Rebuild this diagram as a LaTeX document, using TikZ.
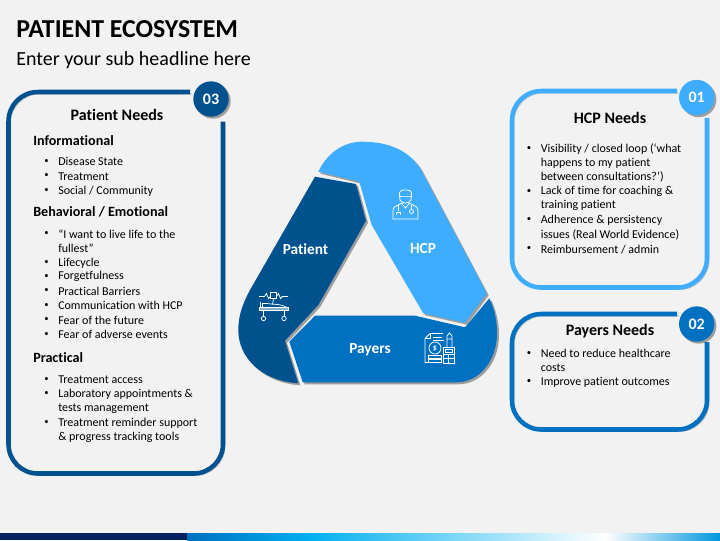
\documentclass[tikz,border=0pt]{standalone}
\usepackage{fontspec}
\setmainfont[Ligatures={TeX,NoCommon}]{Carlito}
\usetikzlibrary{shadows}

\definecolor{bgcol}{HTML}{F2F2F2}
\definecolor{darkblue}{HTML}{00528F}
\definecolor{midblue}{HTML}{0070C0}
\definecolor{lightblue}{HTML}{3FADFF}
\definecolor{navybar}{HTML}{002060}
\definecolor{skybar}{HTML}{00B0F0}

\tikzset{
	x=0.75pt,y=-0.75pt,
	softshadow/.style={drop shadow={shadow xshift=1.5pt,shadow yshift=-1.5pt,opacity=.35,fill=black}},
	frameline/.style={line width=3.4pt,rounded corners=22pt,
		preaction={draw=black,opacity=.28,transform canvas={shift={(1.5pt,-1.5pt)}}}},
	badge/.style={circle,minimum size=26.5pt,inner sep=0pt,text=white,font=\bfseries\fontsize{12}{14}\selectfont,softshadow},
	segment/.style={softshadow},
	seglabel/.style={text=white,font=\bfseries\fontsize{11.5}{14}\selectfont},
	needhead/.style={font=\bfseries\fontsize{12}{14}\selectfont},
	subhead/.style={anchor=west,inner sep=0pt,font=\bfseries\fontsize{10.6}{13}\selectfont},
	itemlist/.style={anchor=west,align=left,inner sep=0pt,yshift=-.6pt,font=\fontsize{9}{10.8}\selectfont},
	dotmark/.style={anchor=center,inner sep=0pt,yshift=-.3pt,font=\fontsize{6.5}{8}\selectfont},
	iconline/.style={draw=white,line width=.55pt},
}

\begin{document}
\begin{tikzpicture}
\useasboundingbox (0,0) rectangle (720,540);
\fill[bgcol] (0,0) rectangle (720,540);

% title
\node[anchor=west,inner sep=0pt,font=\bfseries\fontsize{19.4}{23}\selectfont] (title) at (16,29) {PATIENT ECOSYSTEM};
\node[anchor=west,inner sep=0pt,font=\fontsize{15}{18}\selectfont] (subtitle) at (16,60) {Enter your sub headline here};

% bottom bar
\fill[navybar] (0,533) rectangle (187,540);
\fill[left color=midblue,right color=skybar] (187,533) rectangle (310,540);
\fill[left color=skybar,right color=white] (310,533) rectangle (605,540);
\fill[left color=white,right color=skybar!60!midblue] (605,533) rectangle (720,540);

% triangle
\fill[lightblue,segment] (318.3,171.7) .. controls (326,155) and (342,141.7) .. (361.7,141.7)
	.. controls (388,141.7) and (408,150) .. (420,168) -- (486.7,293.3) -- (465,322.7) -- (423.3,313.3)
	-- (371.7,225) -- (359.3,181.7) -- cycle;
\fill[darkblue,segment] (315,176.7) -- (356,184) -- (366,220.7) -- (318.3,305) -- (285,340.7) -- (298.3,383.3)
	.. controls (262,381) and (238.3,358) .. (238.3,330) .. controls (238.3,315) and (243,303) .. (250,290) -- cycle;
\fill[midblue,segment] (289.3,341.7) -- (315,315.7) -- (415,315.7) -- (465,327.3) -- (489.3,298.3)
	.. controls (494,308) and (497,320) .. (497,333) .. controls (497,362) and (478,382.3) .. (456.7,382.3)
	-- (302.7,382.3) -- cycle;

\node[seglabel] (patient) at (305.5,249) {Patient};
\node[seglabel] (hcp) at (423,249) {HCP};
\node[seglabel] (payers) at (370,349.5) {Payers};

% doctor icon
\begin{scope}[shift={(405.5,205)}]
	\draw[iconline] (-6,-9) .. controls (-7,-15) and (-3,-15) .. (0,-15) .. controls (3,-15) and (7,-15) .. (6,-9)
		-- (5.5,-5) .. controls (3,-1) and (-3,-1) .. (-5.5,-5) -- cycle;
	\draw[iconline] (-6,-9) .. controls (-2,-9) and (2,-9) .. (6,-9);
	\draw[iconline] (-4,-2) -- (-11,2) .. controls (-12,3) and (-12.5,4) .. (-12.5,6) -- (-12.5,14) -- (12.5,14) -- (12.5,6)
		.. controls (12.5,4) and (12,3) .. (11,2) -- (4,-2) -- (0,3) -- cycle;
	\draw[iconline] (-7,0) -- (-7,6) (-9,10) -- (-9,7) -- (-5,7) -- (-5,10);
	\draw[iconline] (6,0) -- (6,4) (6,6.5) circle (2);
\end{scope}

% bed icon
\begin{scope}[shift={(273.5,306.5)}]
	\draw[iconline] (-14.5,-10) -- (-9,-10) -- (-7,-13) -- (-5,-8) -- (-3,-10);
	\draw[iconline] (3,-10) -- (5,-13) -- (7,-8) -- (9,-10) -- (14.5,-10);
	\draw[iconline] (-3,-14.5) rectangle (3,-8);
	\draw[iconline] (0,-8) -- (-1,-2);
	\draw[iconline] (-13,-5) -- (-13,1);
	\draw[iconline] (-11,1) -- (-11,-3) -- (-6,-3) .. controls (-3,-2) and (8,-3) .. (13,1);
	\fill[white,opacity=.55] (-14,1) rectangle (14.5,4);
	\draw[iconline] (-14,1) rectangle (14.5,4);
	\draw[iconline] (-10,4) -- (-10,10) (10.5,4) -- (10.5,10);
	\draw[iconline] (-10,12) circle (2.2) (10.5,12) circle (2.2);
\end{scope}

% payers icon
\begin{scope}[shift={(439.5,348)}]
	\draw[iconline] (-9.5,-14.5) -- (3.5,-14.5) (-9.5,-14.5) -- (-14.5,-9.5) -- (-14.5,14.5) -- (-11,14.5);
	\draw[iconline] (-9.5,-14.5) -- (-9.5,-9.5) -- (-14.5,-9.5);
	\draw[iconline] (-7,-11) -- (2,-11) (-7,-8) -- (4,-8);
	\draw[iconline] (-4.5,0) circle (6);
	\node[text=white,inner sep=0pt,font=\bfseries\fontsize{6}{6}\selectfont] (dollar) at (-4.5,0) {\$};
	\draw[iconline] (-11,7.5) rectangle (2,10.5) (-11,11) rectangle (2,14.5);
	\draw[iconline] (3.5,-1) rectangle (14.5,15);
	\draw[iconline] (5.5,1) rectangle (12.5,4);
	\draw[iconline] (3.5,6.5) -- (14.5,6.5) (3.5,10.5) -- (14.5,10.5) (9,6.5) -- (9,15);
	\draw[iconline] (7.5,-1) -- (7.5,-12) -- (10,-15) -- (12.5,-12) -- (12.5,-1) (7.5,-9) -- (12.5,-9);
\end{scope}

% panel 03
\draw[frameline,draw=darkblue] (190,92) -- (8.5,92) -- (8.5,473.5) -- (223,473.5) -- (223,121.5);
\node[badge,fill=darkblue] (badgeC) at (211,99) {03};
\node[needhead] (needsC) at (117,114.5) {Patient Needs};
\node[subhead] (infoC) at (33,140.5) {Informational};
\node[subhead] (behavC) at (33,212) {Behavioral / Emotional};
\node[subhead] (practC) at (33,357.5) {Practical};
\foreach \ypos/\txt in {161/{Disease State},175.5/{Treatment},190/{Social / Community},
	233/{“I want to live life to the},247.5/{fullest”},262/{Lifecycle},276/{Forgetfulness},290.5/{Practical Barriers},305/{Communication with HCP},319.5/{Fear of the future},334/{Fear of adverse events},
	379/{Treatment access},393.5/{Laboratory appointments \&},408/{tests management},422/{Treatment reminder support},436.5/{\& progress tracking tools}}
	\node[itemlist] at (58,\ypos) {\txt};
\foreach \ypos in {161,175.5,190,233,262,276,290.5,305,319.5,334,379,393.5,422}
	\node[dotmark] at (46.5,\ypos) {•};

% panel 01
\draw[frameline,draw=lightblue] (677,91) -- (512,91) -- (512,287.5) -- (707,287.5) -- (707,118);
\node[badge,fill=lightblue] (badgeA) at (696.7,97.5) {01};
\node[needhead] (needsA) at (610,118) {HCP Needs};
\foreach \ypos/\txt in {148/{Visibility / closed loop (‘what},162/{happens to my patient},176.5/{between consultations?’)},191/{Lack of time for coaching \&},205/{training patient},219.5/{Adherence \& persistency},234/{issues (Real World Evidence)},248.5/{Reimbursement / admin}}
	\node[itemlist] at (540.5,\ypos) {\txt};
\foreach \ypos in {148,191,219.5,248.5}
	\node[dotmark] at (529,\ypos) {•};

% panel 02
\draw[frameline,draw=midblue] (677,314) -- (512,314) -- (512,429.5) -- (707,429.5) -- (707,342);
\node[badge,fill=midblue] (badgeB) at (696.7,324) {02};
\node[needhead] (needsB) at (610,331.5) {Payers Needs};
\foreach \ypos/\txt in {353/{Need to reduce healthcare},367/{costs},381.5/{Improve patient outcomes}}
	\node[itemlist] at (540.5,\ypos) {\txt};
\foreach \ypos in {353,381.5}
	\node[dotmark] at (529,\ypos) {•};
\end{tikzpicture}
\end{document}
